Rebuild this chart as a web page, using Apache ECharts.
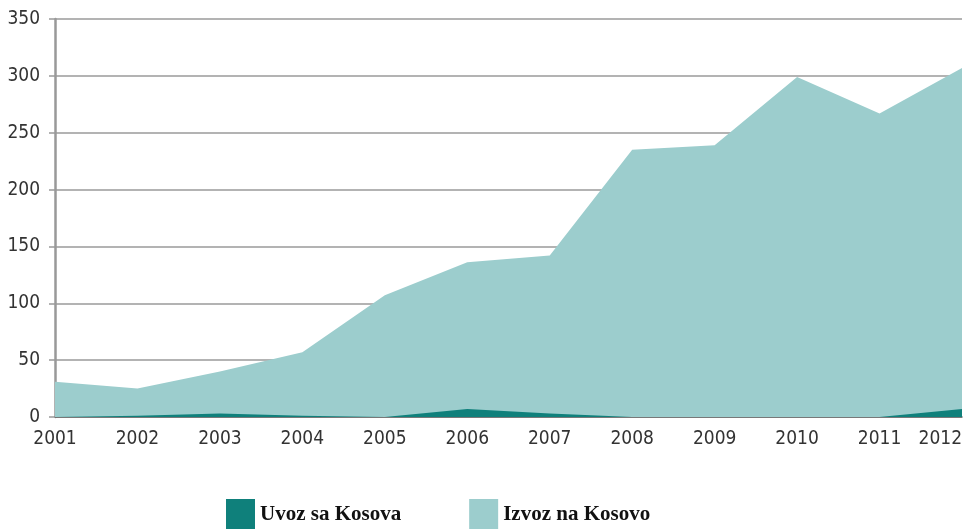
<!DOCTYPE html>
<html><head><meta charset="utf-8">
<script src="https://cdn.jsdelivr.net/npm/echarts@6/dist/echarts.min.js"></script>
<style>html,body{margin:0;padding:0;background:#fff}#c{width:977px;height:529px}</style>
</head><body><div id="c"></div>
<script>
const years = ['2001','2002','2003','2004','2005','2006','2007','2008','2009','2010','2011','2012'];
const izvozNaKosovo = [31, 25, 40, 57, 107, 136, 142, 235, 239, 299, 267, 307];
const uvozSaKosova = [0, 1, 3, 1, 0, 7, 3, 0, 0, 0, 0, 7];
const yTicks = [0, 50, 100, 150, 200, 250, 300, 350];

const axisFont = "'DejaVu Sans Condensed', 'Roboto Condensed', 'Liberation Sans Narrow', sans-serif";
const chart = echarts.init(document.getElementById('c'));
chart.setOption({
  animation: false,
  grid: {left: 55, right: 15, top: 19, bottom: 112, outerBoundsMode: 'none', containLabel: false},
  legend: {
    bottom: -6, left: 221,
    itemWidth: 29, itemHeight: 31, itemGap: 68,
    icon: 'rect',
    textStyle: {fontFamily: 'Liberation Serif', fontWeight: 'bold', fontSize: 21, color: '#111'},
    data: ['Uvoz sa Kosova', 'Izvoz na Kosovo']
  },
  xAxis: {
    type: 'category', data: years, boundaryGap: false,
    axisLine: {lineStyle: {color: '#666', width: 1.5}},
    axisTick: {show: false},
    axisLabel: {fontFamily: axisFont, fontSize: 19, color: '#333', margin: 13,
      interval: 0, hideOverlap: false, showMaxLabel: true, showMinLabel: true,
      alignMaxLabel: 'right'}
  },
  yAxis: {
    type: 'value', min: 0, max: 350, interval: 50,
    axisLine: {show: true, lineStyle: {color: '#999', width: 2.5}},
    axisTick: {show: true, length: 6, lineStyle: {color: '#999', width: 1.5}},
    splitLine: {lineStyle: {color: '#9a9a9a', width: 1.5}},
    axisLabel: {fontFamily: axisFont, fontSize: 19, color: '#333', margin: 15,
      formatter: v => yTicks.includes(v) ? String(v) : ''}
  },
  series: [
    {name: 'Izvoz na Kosovo', type: 'line', data: izvozNaKosovo, symbol: 'none',
     lineStyle: {width: 0}, itemStyle: {color: '#9ccdcd'}, areaStyle: {color: '#9ccdcd', opacity: 1}, z: 3},
    {name: 'Uvoz sa Kosova', type: 'line', data: uvozSaKosova, symbol: 'none',
     lineStyle: {width: 0}, itemStyle: {color: '#0f807b'}, areaStyle: {color: '#0f807b', opacity: 1}, z: 4}
  ]
});
</script></body></html>
